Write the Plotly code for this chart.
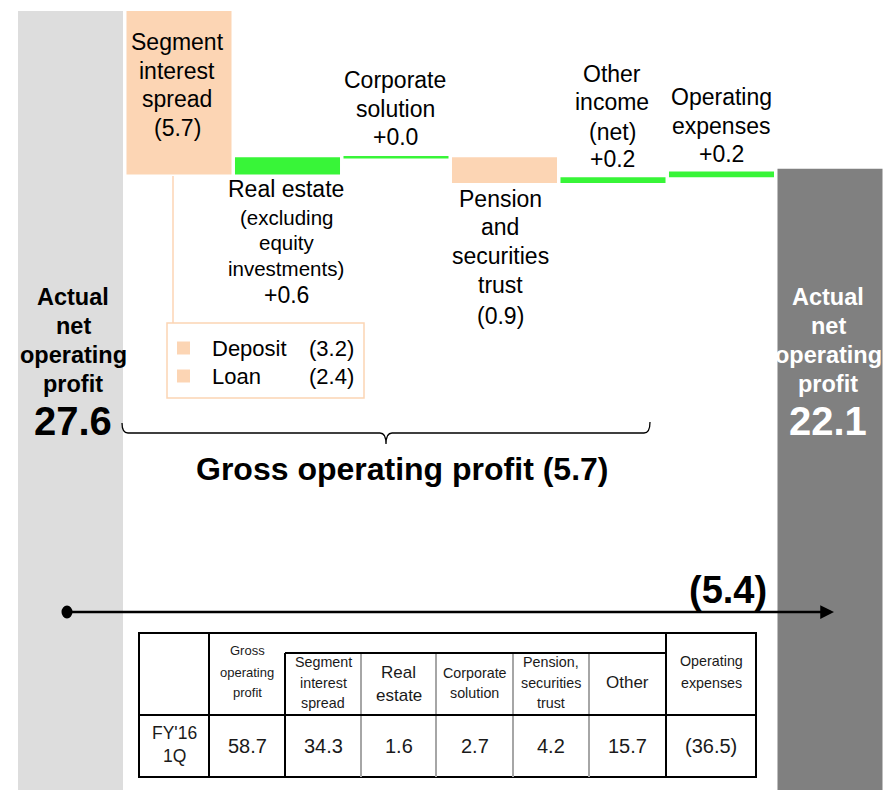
import plotly.graph_objects as go

# ---------------- data ----------------
categories = ["Actual net operating profit (FY'15 1Q)", "Segment interest spread", "Real estate",
              "Corporate solution", "Pension and securities trust", "Other income (net)",
              "Operating expenses", "Actual net operating profit (FY'16 1Q)"]
measures = ["total", "relative", "relative", "relative", "relative", "relative", "relative", "total"]
values = [27.6, -5.7, 0.6, 0.0, -0.9, 0.2, 0.2, 22.1]

breakdown_labels = ["Deposit", "Loan"]
breakdown_values = [-3.2, -2.4]

gross_label = "Gross operating profit"
gross_change = -5.7
net_change = -5.4

table_headers = [["Gross", "operating", "profit"], ["Segment", "interest", "spread"], ["Real", "estate"],
                 ["Corporate", "solution"], ["Pension,", "securities", "trust"], ["Other"],
                 ["Operating", "expenses"]]
table_row_label = ["FY'16", "1Q"]
table_values = [58.7, 34.3, 1.6, 2.7, 4.2, 15.7, -36.5]

# ---------------- styles ----------------
W, H = 883, 790
FONT = "Liberation Sans, Arial, sans-serif"
PEACH = "#FCD5B4"
GREEN = "#38F538"
bar_colors = ["#DDDDDD", PEACH, GREEN, GREEN, PEACH, GREEN, GREEN, "#808080"]
BAR_W = 0.968


def fmt(v, sign=True):
    if v < 0:
        return "(%.1f)" % (-v)
    return ("+%.1f" % v) if sign else "%.1f" % v


# positions below are in page pixels (top-left origin)
def px(x):
    return x / W


def py(y):
    return 1 - y / H


annotations = []
shapes = []


def txt(x, y, s, size, bold=False, color="black", xanchor="center"):
    annotations.append(dict(x=px(x), y=py(y), xref="paper", yref="paper",
                            text=("<b>%s</b>" % s) if bold else s, showarrow=False,
                            font=dict(size=size, color=color, family=FONT),
                            xanchor=xanchor, yanchor="middle"))


def lines(x, ys, texts, size, bold=False, color="black"):
    for y, t in zip(ys, texts):
        if isinstance(t, tuple):
            txt(x, y, t[0], t[1], bold, color)
        else:
            txt(x, y, t, size, bold, color)


def hline(x0, x1, y, color="black", w=2):
    shapes.append(dict(type="line", xref="paper", yref="paper", x0=px(x0), x1=px(x1), y0=py(y), y1=py(y),
                       line=dict(color=color, width=w)))


def vline(x, y0, y1, color="black", w=2):
    shapes.append(dict(type="line", xref="paper", yref="paper", x0=px(x), x1=px(x), y0=py(y0), y1=py(y1),
                       line=dict(color=color, width=w)))


# ---------------- bars (waterfall via bases) ----------------
bases, heights = [], []
level = 0.0
for m, v in zip(measures, values):
    if m == "total":
        bases.append(0.0)
        heights.append(v)
        level = v
    else:
        bases.append(level)
        heights.append(v)
        level += v

xs = list(range(len(categories)))
fig = go.Figure()
fig.add_trace(go.Bar(x=xs, y=heights, base=bases, width=BAR_W, marker=dict(color=bar_colors, line=dict(width=0)),
                     hoverinfo="skip", customdata=categories))

# zero-change steps drawn as a thin line at their level
for i, (m, v, b) in enumerate(zip(measures, values, bases)):
    if m == "relative" and v == 0:
        fig.add_trace(go.Scatter(x=[i - BAR_W / 2, i + BAR_W / 2], y=[b, b], mode="lines",
                                 line=dict(color=GREEN, width=2.5), hoverinfo="skip"))

# ---------------- step labels ----------------
LS = 23
lines(177, [42, 71, 99, 128], ["Segment", "interest", "spread", fmt(values[1])], LS)
lines(286, [189, 217, 243, 268, 295],
      [("Real estate", LS), ("(excluding", 20.5), ("equity", 20.5), ("investments)", 20.5), (fmt(values[2]), LS)], LS)
lines(395, [80, 109, 137], ["Corporate", "solution", fmt(values[3])], LS)
lines(500, [199, 227, 256, 285, 316], ["Pension", "and", "securities", "trust", fmt(values[4])], LS)
lines(612, [74, 102, 132, 159], ["Other", "income", "(net)", fmt(values[5])], LS)
lines(721, [97, 126, 154], ["Operating", "expenses", fmt(values[6])], LS)

lines(73, [297, 326, 355, 384], ["Actual", "net", "operating", "profit"], 23.5, bold=True)
txt(73, 421, fmt(values[0], sign=False), 40, bold=True)
lines(828, [297, 326, 355, 384], ["Actual", "net", "operating", "profit"], 23.5, bold=True, color="white")
txt(828, 421, fmt(values[7], sign=False), 40, bold=True, color="white")

# breakdown box
vline(173, 176, 323, color=PEACH, w=1.5)
shapes.append(dict(type="rect", xref="paper", yref="paper", x0=px(167), x1=px(364), y0=py(323), y1=py(398),
                   line=dict(color=PEACH, width=1.5), fillcolor="white"))
for k, (lab, v) in enumerate(zip(breakdown_labels, breakdown_values)):
    yc = 348 + 28 * k
    shapes.append(dict(type="rect", xref="paper", yref="paper", x0=px(177), x1=px(190), y0=py(yc - 6.5),
                       y1=py(yc + 6.5), line=dict(width=0), fillcolor=PEACH))
    txt(210, yc, lab, 22, xanchor="left")
    txt(356, yc, fmt(v), 22, xanchor="right")


# brace
def P(x, y):
    return "%.5f,%.5f" % (px(x), py(y))


brace = ("M " + P(122, 423) + " Q " + P(122, 433) + " " + P(128, 433) + " L " + P(380, 433) +
         " Q " + P(386, 433) + " " + P(386, 444) + " Q " + P(386, 433) + " " + P(392, 433) +
         " L " + P(644, 433) + " Q " + P(650, 433) + " " + P(650, 422))
shapes.append(dict(type="path", xref="paper", yref="paper", path=brace, line=dict(color="black", width=1.3)))
txt(402, 469, "%s %s" % (gross_label, fmt(gross_change)), 32, bold=True)

# net change arrow
annotations.append(dict(x=px(834), y=py(612), xref="paper", yref="paper", ax=67 - 834, ay=0, text="",
                        showarrow=True, arrowhead=2, arrowsize=1.1, arrowwidth=2.5, arrowcolor="black"))
shapes.append(dict(type="circle", xref="paper", yref="paper", x0=px(61.5), x1=px(72.5), y0=py(605.5), y1=py(618.5),
                   fillcolor="black", line=dict(width=0)))
txt(728, 590, fmt(net_change), 38, bold=True)

# ---------------- table ----------------
col_edges = [139, 209, 285, 361, 436, 513, 589, 666, 756]
T0, TS, TM, T1 = 633, 653, 715, 777
shapes.append(dict(type="rect", xref="paper", yref="paper", x0=px(col_edges[0]), x1=px(col_edges[-1]),
                   y0=py(T0), y1=py(T1), fillcolor="white", line=dict(color="black", width=2), layer="above"))
for x in [361, 436, 513, 589]:
    vline(x, TS, T1, color="#A6A6A6", w=2)
vline(209, T0, T1)
vline(285, TS, T1)
vline(666, T0, T1)
hline(285, 666, TS)
hline(139, 756, TM)

centers = [(col_edges[i] + col_edges[i + 1]) / 2 for i in range(len(col_edges) - 1)]
header_specs = [([650, 672, 692], 13), ([662, 683, 703], 14.3), ([672, 695], 17), ([673, 693], 14.3),
                ([662, 683, 703], 14.3), ([682], 17), ([661, 683], 14.3)]
for i, (hdr, (ys, sz)) in enumerate(zip(table_headers, header_specs)):
    lines(centers[i + 1], ys, hdr, sz, color="#1a1a1a")
lines(centers[0], [733, 756], table_row_label, 17.5, color="#1a1a1a")
for i, v in enumerate(table_values):
    txt(centers[i + 1], 746, fmt(v, sign=False), 20, color="#1a1a1a")

# ---------------- layout ----------------
# vertical scale: 27.6 at y=11 px, 21.6 at y=183 px
s = (183 - 11) / 6.0
ytop = 27.6 + 11 / s
ybot = 27.6 - (H - 11) / s
step = 108.5
xl = -70.5 / step
xr = (W - 70.5) / step

fig.update_layout(width=W, height=H, margin=dict(l=0, r=0, t=0, b=0), paper_bgcolor="white",
                  plot_bgcolor="white", showlegend=False, barmode="overlay",
                  xaxis=dict(visible=False, range=[xl, xr], fixedrange=True),
                  yaxis=dict(visible=False, range=[ybot, ytop], fixedrange=True),
                  annotations=annotations, shapes=shapes, font=dict(family=FONT))
fig.write_html("out.html", config={"displayModeBar": False},
               post_script="document.body.style.margin='0';document.body.style.overflow='hidden';")
